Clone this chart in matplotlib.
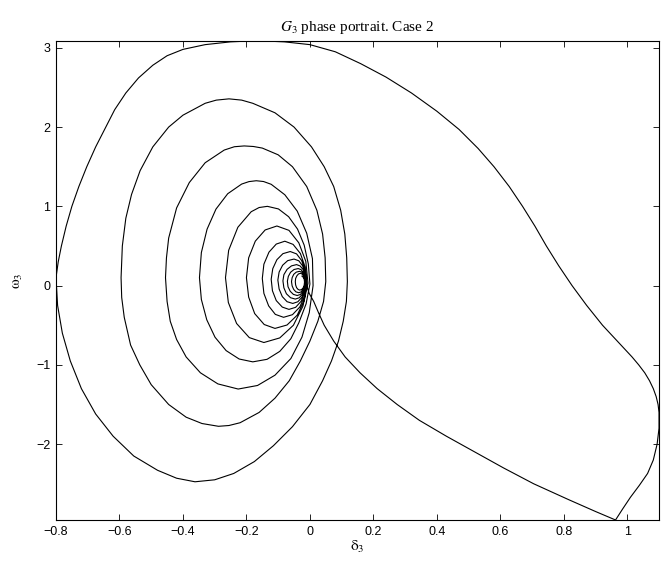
import matplotlib
matplotlib.use("Agg")
import matplotlib.pyplot as plt

plt.rcParams['mathtext.fontset'] = 'stix'

# ---- data (delta_3, omega_3) ----
# fault-on segment: from equilibrium down to the bottom corner
fault_delta = [-0.014, -0.002, 0.012, 0.028, 0.045, 0.075, 0.111, 0.158, 0.212, 0.275, 0.345,
               0.43, 0.52, 0.61, 0.705, 0.815, 0.90, 0.963]
fault_omega = [0.05, -0.10, -0.20, -0.35, -0.50, -0.70, -0.90, -1.10, -1.30, -1.50, -1.70,
               -1.90, -2.10, -2.30, -2.50, -2.70, -2.85, -2.957]

# first post-fault swing: corner -> right edge -> top
swing1a_delta = [0.985, 1.01, 1.038, 1.064, 1.082, 1.094, 1.10, 1.10, 1.097, 1.091, 1.082,
                 1.07, 1.055, 1.036, 1.015, 0.98, 0.922, 0.872, 0.826, 0.784, 0.745, 0.709,
                 0.670, 0.628, 0.58, 0.53, 0.47, 0.40, 0.32, 0.24, 0.16, 0.08, 0.0, -0.08,
                 -0.166]
swing1a_omega = [-2.82, -2.67, -2.52, -2.37, -2.20, -2.00, -1.80, -1.60, -1.50, -1.40, -1.30,
                 -1.20, -1.10, -1.00, -0.90, -0.75, -0.50, -0.25, 0.0, 0.25, 0.5, 0.75,
                 1.0, 1.25, 1.5, 1.73, 1.97, 2.2, 2.43, 2.63, 2.8, 2.95, 3.04, 3.075,
                 3.09]
# top -> left edge -> bottom -> right -> top of loop 2
swing1b_delta = [-0.25, -0.33, -0.40, -0.45, -0.495, -0.54, -0.58, -0.615, -0.643, -0.675,
                 -0.703, -0.728, -0.75, -0.768, -0.783, -0.793, -0.80, -0.795, -0.78, -0.755,
                 -0.72, -0.675, -0.62, -0.555, -0.48, -0.42, -0.362, -0.30, -0.24, -0.175,
                 -0.115, -0.055, 0.0, 0.04, 0.068, 0.09, 0.105, 0.115, 0.118, 0.116, 0.11,
                 0.097, 0.075, 0.045, 0.005, -0.05, -0.11, -0.18, -0.215, -0.255]
swing1b_omega = [3.075, 3.04, 2.98, 2.9, 2.78, 2.62, 2.43, 2.22, 2.0, 1.75,
                 1.5, 1.25, 1.0, 0.75, 0.5, 0.3, 0.1, -0.25, -0.6, -0.95,
                 -1.3, -1.62, -1.9, -2.15, -2.33, -2.43, -2.475, -2.45, -2.37, -2.22,
                 -2.02, -1.78, -1.5, -1.2, -0.95, -0.7, -0.45, -0.2, 0.05, 0.35, 0.65,
                 0.95, 1.25, 1.5, 1.75, 2.0, 2.18, 2.3, 2.34, 2.356]

loop2_delta = [-0.295, -0.33, -0.40, -0.445, -0.495, -0.535, -0.562, -0.58, -0.591, -0.595,
               -0.593, -0.585, -0.565, -0.536, -0.50, -0.445, -0.39, -0.34, -0.288, -0.255,
               -0.22, -0.16, -0.11, -0.065, -0.03, 0.0, 0.025, 0.043, 0.05, 0.048, 0.04,
               0.022, -0.01, -0.055, -0.10, -0.15, -0.178, -0.207]
loop2_omega = [2.34, 2.30, 2.15, 2.0, 1.75, 1.45, 1.15, 0.85, 0.5, 0.1,
               -0.15, -0.4, -0.75, -1.0, -1.25, -1.5, -1.66, -1.74, -1.775, -1.765,
               -1.73, -1.6, -1.42, -1.2, -0.95, -0.7, -0.45, -0.2, 0.05, 0.35, 0.65,
               0.95, 1.25, 1.5, 1.65, 1.735, 1.755, 1.762]

loop3_delta = [-0.238, -0.27, -0.33, -0.38, -0.42, -0.445, -0.452, -0.455, -0.45, -0.44, -0.42,
               -0.39, -0.345, -0.29, -0.226, -0.165, -0.11, -0.06, -0.025, -0.002, 0.01,
               0.008, -0.01, -0.04, -0.079, -0.122, -0.146, -0.169]
loop3_omega = [1.752, 1.71, 1.55, 1.30, 0.98, 0.60, 0.35, 0.10, -0.20, -0.45, -0.68,
               -0.90, -1.10, -1.24, -1.305, -1.26, -1.13, -0.92, -0.65, -0.34, 0.0,
               0.34, 0.66, 0.94, 1.146, 1.278, 1.313, 1.323]

loop4_delta = [-0.192, -0.215, -0.259, -0.296, -0.324, -0.342, -0.348, -0.342, -0.325, -0.299,
               -0.264, -0.223, -0.18, -0.135, -0.095, -0.06, -0.035, -0.012, 0.0, -0.005,
               -0.018, -0.039, -0.067, -0.099, -0.134]
loop4_omega = [1.312, 1.281, 1.159, 0.965, 0.712, 0.417, 0.10, -0.175, -0.431, -0.651,
               -0.82, -0.926, -0.962, -0.93, -0.83, -0.67, -0.47, -0.23, 0.02, 0.274,
               0.51, 0.713, 0.869, 0.967, 1.0]

loop5_delta = [-0.16, -0.185, -0.227, -0.256, -0.266, -0.257, -0.231, -0.191, -0.145, -0.095,
               -0.052, -0.022, -0.006, -0.013, -0.035, -0.066, -0.104]
loop5_omega = [0.985, 0.932, 0.736, 0.445, 0.10, -0.213, -0.478, -0.656, -0.718, -0.66,
               -0.50, -0.26, 0.03, 0.307, 0.54, 0.697, 0.752]

loop6_delta = [-0.141, -0.172, -0.193, -0.20, -0.193, -0.174, -0.144, -0.11, -0.072, -0.04,
               -0.018, -0.01, -0.015, -0.03, -0.053, -0.079]
loop6_omega = [0.702, 0.561, 0.35, 0.10, -0.145, -0.353, -0.491, -0.54, -0.497, -0.373,
               -0.188, 0.03, 0.233, 0.405, 0.52, 0.56]

loop7_delta = [-0.106, -0.129, -0.145, -0.15, -0.145, -0.13, -0.109, -0.083, -0.055, -0.032,
               -0.016, -0.011, -0.015, -0.026, -0.042, -0.062]
loop7_omega = [0.524, 0.422, 0.27, 0.09, -0.098, -0.256, -0.363, -0.40, -0.367, -0.271,
               -0.128, 0.04, 0.189, 0.316, 0.40, 0.43]

loop8_delta = [-0.085, -0.104, -0.117, -0.122, -0.118, -0.106, -0.087, -0.066, -0.045, -0.028,
               -0.016, -0.012, -0.015, -0.023, -0.035, -0.05]
loop8_omega = [0.403, 0.327, 0.214, 0.08, -0.066, -0.189, -0.271, -0.30, -0.274, -0.199,
               -0.087, 0.045, 0.156, 0.25, 0.313, 0.335]

loop9_delta = [-0.07, -0.086, -0.097, -0.101, -0.097, -0.087, -0.072, -0.054, -0.038, -0.025,
               -0.016, -0.013, -0.015, -0.021, -0.031, -0.042]
loop9_omega = [0.315, 0.257, 0.171, 0.07, -0.043, -0.139, -0.203, -0.225, -0.204, -0.146,
               -0.058, 0.045, 0.129, 0.201, 0.248, 0.265]

loop10_delta = [-0.058, -0.072, -0.082, -0.085, -0.082, -0.074, -0.061, -0.046, -0.034, -0.023,
                -0.016, -0.014, -0.016, -0.021, -0.028, -0.037]
loop10_omega = [0.249, 0.205, 0.138, 0.06, -0.028, -0.103, -0.153, -0.17, -0.154, -0.107,
                -0.037, 0.045, 0.11, 0.165, 0.202, 0.215]

loop11_delta = [-0.05, -0.061, -0.068, -0.071, -0.069, -0.062, -0.052, -0.04, -0.03, -0.022,
                -0.017, -0.015, -0.016, -0.02, -0.026, -0.033]
loop11_omega = [0.203, 0.168, 0.116, 0.055, -0.014, -0.072, -0.111, -0.125, -0.112, -0.075,
                -0.02, 0.045, 0.097, 0.14, 0.17, 0.18]

loop12_delta = [-0.043, -0.051, -0.056, -0.058, -0.056, -0.051, -0.044, -0.035, -0.028, -0.022,
                -0.017, -0.016, -0.017, -0.02, -0.025, -0.03]
loop12_omega = [0.17, 0.142, 0.10, 0.05, -0.004, -0.049, -0.079, -0.09, -0.08, -0.05,
                -0.007, 0.045, 0.087, 0.123, 0.147, 0.155]

loop13_delta = [-0.036, -0.041, -0.045, -0.046, -0.045, -0.042, -0.037, -0.032, -0.026, -0.021,
                -0.018, -0.017, -0.018, -0.021, -0.025]
loop13_omega = [0.147, 0.124, 0.09, 0.05, 0.009, -0.026, -0.049, -0.057, -0.049, -0.027,
                0.006, 0.045, 0.08, 0.105, 0.12]

x_ticks = [-0.8, -0.6, -0.4, -0.2, 0, 0.2, 0.4, 0.6, 0.8, 1]
x_tick_labels = ['\u22120.8', '\u22120.6', '\u22120.4', '\u22120.2', '0', '0.2', '0.4', '0.6', '0.8', '1']
y_ticks = [-2, -1, 0, 1, 2, 3]
y_tick_labels = ['\u22122', '\u22121', '0', '1', '2', '3']

delta3 = (fault_delta + swing1a_delta + swing1b_delta + loop2_delta + loop3_delta + loop4_delta +
          loop5_delta + loop6_delta + loop7_delta + loop8_delta + loop9_delta + loop10_delta +
          loop11_delta + loop12_delta + loop13_delta)
omega3 = (fault_omega + swing1a_omega + swing1b_omega + loop2_omega + loop3_omega + loop4_omega +
          loop5_omega + loop6_omega + loop7_omega + loop8_omega + loop9_omega + loop10_omega +
          loop11_omega + loop12_omega + loop13_omega)

fig = plt.figure(figsize=(6.62, 5.61), dpi=100)
ax = fig.add_axes([0.0846, 0.0731, 0.9109, 0.8544])
ax.plot(delta3, omega3, color='black', linewidth=0.8, solid_joinstyle='round')

ax.set_xlim(-0.8, 1.1)
ax.set_ylim(-2.957, 3.09)
ax.set_xticks(x_ticks)
ax.set_xticklabels(x_tick_labels, fontfamily='Liberation Sans', fontsize=9)
ax.set_yticks(y_ticks)
ax.set_yticklabels(y_tick_labels, fontfamily='Liberation Sans', fontsize=9)
ax.tick_params(direction='in', length=4, width=0.6, top=True, right=True, pad=4)
for s in ax.spines.values():
    s.set_linewidth(0.8)

ax.set_title('$G_3$ phase portrait. Case 2', fontfamily='Liberation Serif', fontsize=11, pad=7)
ax.set_xlabel(r'$\mathrm{\delta}_3$', fontsize=11, labelpad=1)
ax.set_ylabel(r'$\mathrm{\omega}_3$', fontsize=11, labelpad=8)

fig.savefig('out.png', dpi=100)
